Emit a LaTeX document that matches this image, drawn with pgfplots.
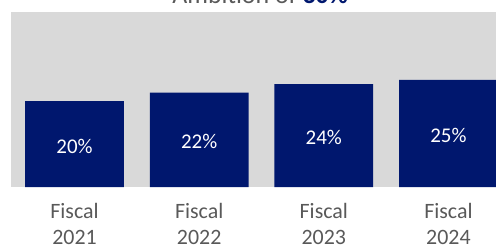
\documentclass[border=0pt]{standalone}
\usepackage{pgfplots}
\pgfplotsset{compat=1.18}
\usepackage{fontspec}
\setmainfont{Carlito}
\definecolor{navy}{HTML}{00176E}
\definecolor{bg}{HTML}{D9D9D9}
\definecolor{txt}{HTML}{595959}
\begin{document}
\begin{tikzpicture}
\useasboundingbox (-11bp,-62bp) rectangle (485bp,187bp);
\clip (-11bp,-62bp) rectangle (485bp,187bp);
\begin{axis}[
  at={(0,0)}, anchor=south west,
  scale only axis, width=501bp, height=175bp,
  xmin=-0.51, xmax=3.51, ymin=0, ymax=40.8,
  axis background/.style={fill=bg},
  axis line style={draw=none},
  major tick length=0pt,
  ytick=\empty,
  xtick=data,
  xticklabels={{Fiscal\\2021},{Fiscal\\2022},{Fiscal\\2023},{Fiscal\\2024}},
  xticklabel style={align=center, font=\fontsize{22}{26}\selectfont, text=txt, yshift=-13bp},
  ybar, bar width=0.793, bar shift=0pt,
  visualization depends on=y \as \rawy,
  nodes near coords={\pgfmathprintnumber[assume math mode=true]{\pgfplotspointmeta}\%},
  every node near coord/.append style={anchor=center, text=white, font=\fontsize{21}{24}\selectfont, shift={(axis direction cs:0,-\rawy/2)}, yshift=-2bp},
  clip=false,
]
\addplot[fill=navy, draw=none] coordinates {(0,20) (1,22) (2,24) (3,25)};
\node[anchor=base, font=\fontsize{26}{30}\selectfont, text=txt] at (rel axis cs:0.497,0) [yshift=183bp] {Ambition of \textbf{\color{navy}30\%}};
\end{axis}
\end{tikzpicture}
\end{document}
